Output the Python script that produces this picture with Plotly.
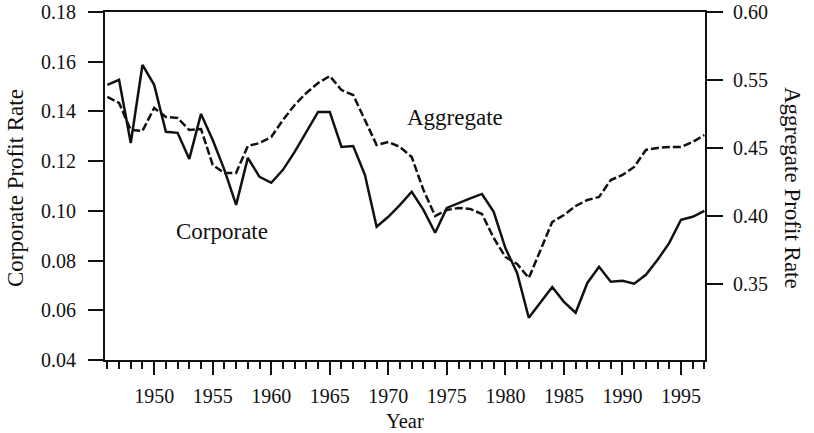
import plotly.graph_objects as go

# ---------------- data ----------------
years = list(range(1946, 1998))

corporate = [0.1507, 0.1527, 0.1273, 0.1587, 0.1507, 0.1318, 0.1314, 0.1209,
             0.1390, 0.1285, 0.1165, 0.1024, 0.1213, 0.1137, 0.1113, 0.1165,
             0.1237, 0.1318, 0.1398, 0.1398, 0.1257, 0.1261, 0.1145, 0.0936,
             0.0976, 0.1024, 0.1077, 0.1004, 0.0912, 0.1012, 0.1032, 0.1050,
             0.1068, 0.0996, 0.0850, 0.0750, 0.0570, 0.0634, 0.0694, 0.0634,
             0.0590, 0.0710, 0.0775, 0.0715, 0.0719, 0.0707, 0.0743, 0.0803,
             0.0871, 0.0964, 0.0976, 0.1000]

aggregate = [0.4875, 0.4831, 0.4632, 0.4625, 0.4794, 0.4728, 0.4720, 0.4632,
             0.4639, 0.4375, 0.4316, 0.4316, 0.4514, 0.4536, 0.4580, 0.4706,
             0.4816, 0.4904, 0.4978, 0.5029, 0.4926, 0.4889, 0.4706, 0.4522,
             0.4544, 0.4507, 0.4433, 0.4191, 0.3999, 0.4044, 0.4058, 0.4051,
             0.4014, 0.3838, 0.3698, 0.3646, 0.3543, 0.3749, 0.3955, 0.4007,
             0.4073, 0.4117, 0.4139, 0.4264, 0.4301, 0.4360, 0.4485, 0.4500,
             0.4507, 0.4507, 0.4544, 0.4595]

x_tickvals = [1950, 1955, 1960, 1965, 1970, 1975, 1980, 1985, 1990, 1995]
left_tickvals = [0.04, 0.06, 0.08, 0.10, 0.12, 0.14, 0.16, 0.18]
right_tickvals = [0.35, 0.40, 0.45, 0.50, 0.55]
right_ticktext = ["0.35", "0.40", "0.45", "0.55", "0.60"]

FONT = "Liberation Serif"
INK = "#111111"

fig = go.Figure()
fig.add_trace(go.Scatter(x=years, y=corporate, mode="lines", name="Corporate",
                         line=dict(color=INK, width=2.5), yaxis="y"))
fig.add_trace(go.Scatter(x=years, y=aggregate, mode="lines", name="Aggregate",
                         line=dict(color=INK, width=2.5, dash="8px,3px"), yaxis="y2"))

fig.update_layout(
    width=814, height=433,
    margin=dict(l=105, r=109, t=12, b=73, autoexpand=False),
    paper_bgcolor="white", plot_bgcolor="white",
    showlegend=False,
    font=dict(family=FONT, color=INK, size=20),
    xaxis=dict(range=[1945.8, 1997.05], tickvals=x_tickvals, automargin=False,
               showgrid=False, zeroline=False,
               showline=True, linecolor=INK, linewidth=2, mirror=True,
               ticks="outside", ticklen=13, tickwidth=2, tickcolor=INK,
               ticklabelstandoff=4,
               tickfont=dict(family=FONT, size=20, color=INK),
               minor=dict(dtick=1, tick0=1946, ticks="outside", ticklen=7,
                          tickwidth=2, tickcolor=INK)),
    yaxis=dict(range=[0.04, 0.18], tickvals=left_tickvals, tickformat=".2f",
               automargin=False,
               showgrid=False, zeroline=False,
               showline=True, linecolor=INK, linewidth=2,
               ticks="outside", ticklen=15, tickwidth=2, tickcolor=INK,
               ticklabelstandoff=8,
               tickfont=dict(family=FONT, size=20, color=INK)),
    yaxis2=dict(range=[0.294, 0.55], tickvals=right_tickvals, ticktext=right_ticktext,
                overlaying="y", side="right", automargin=False,
                showgrid=False, zeroline=False,
                showline=True, linecolor=INK, linewidth=2,
                ticks="outside", ticklen=16, tickwidth=2, tickcolor=INK,
                ticklabelstandoff=6,
                tickfont=dict(family=FONT, size=20, color=INK)),
    annotations=[
        dict(text="Aggregate", x=1975.7, y=0.1374, xref="x", yref="y",
             showarrow=False, font=dict(family=FONT, size=23, color=INK)),
        dict(text="Corporate", x=1955.8, y=0.0916, xref="x", yref="y",
             showarrow=False, font=dict(family=FONT, size=23, color=INK)),
        dict(text="Corporate Profit Rate", x=-0.15, y=0.494, xref="paper", yref="paper",
             textangle=-90, showarrow=False, xanchor="center", yanchor="middle",
             font=dict(family=FONT, size=23, color=INK)),
        dict(text="Aggregate Profit Rate", x=1.147, y=0.494, xref="paper", yref="paper",
             textangle=90, showarrow=False, xanchor="center", yanchor="middle",
             font=dict(family=FONT, size=23, color=INK)),
        dict(text="Year", x=0.5, y=-0.175, xref="paper", yref="paper",
             showarrow=False, xanchor="center", yanchor="middle",
             font=dict(family=FONT, size=20.5, color=INK)),
    ],
)

fig.write_html("out.html", config={"displayModeBar": False},
               post_script="document.body.style.margin='0px';")
